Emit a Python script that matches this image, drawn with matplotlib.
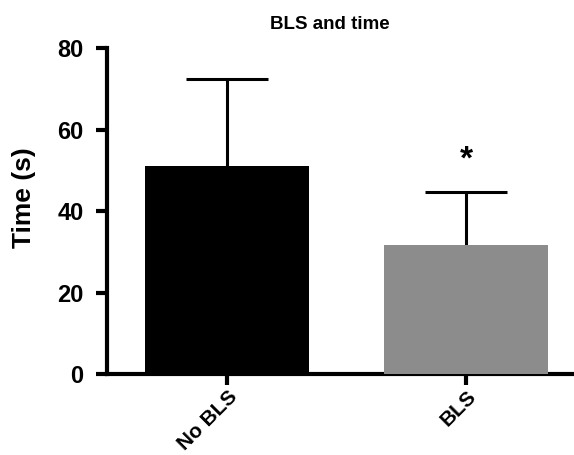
import matplotlib
matplotlib.use("Agg")
import matplotlib.pyplot as plt

# Data
groups = ["No BLS", "BLS"]
means = [51.0, 31.7]
sd_upper = [21.5, 12.9]
bar_colors = ["#000000", "#8c8c8c"]
yticks = [0, 20, 40, 60, 80]

plt.rcParams["font.family"] = ["Liberation Sans", "DejaVu Sans"]
plt.rcParams["font.weight"] = "bold"

fig = plt.figure(figsize=(5.74, 4.55), dpi=100)
ax = fig.add_axes([0.1864, 0.178, 0.8136, 0.7165])

x = list(range(len(groups)))
ax.bar(x, means, width=0.686, color=bar_colors, zorder=3)

# upper error bars only (hide the caps sitting on the bar tops)
lower = [0 for _ in means]
eb = ax.errorbar(x, means, yerr=[lower, sd_upper], fmt="none", ecolor="black",
                 elinewidth=2.2, capsize=29.5, capthick=2.2, zorder=2)
for cap in eb[1]:
    if list(cap.get_ydata()) == means:
        cap.set_visible(False)

# significance star above the BLS bar
ax.text(1, 52.5, "*", ha="center", va="center", fontsize=24, fontweight="bold")

ax.set_xlim(-0.504, 1.45)
ax.set_ylim(0, 80)
ax.set_yticks(yticks)
ax.set_xticks(x)
ax.set_xticklabels(groups, rotation=45, ha="right", rotation_mode="anchor",
                   fontsize=15, fontweight="bold")
ax.tick_params(axis="y", labelsize=17, length=8, width=3, pad=9)
ax.tick_params(axis="x", length=8, width=3, pad=1)

ax.spines["top"].set_visible(False)
ax.spines["right"].set_visible(False)
ax.spines["left"].set_linewidth(3)
ax.spines["bottom"].set_linewidth(3)

ax.set_ylabel("Time (s)", fontsize=19, fontweight="bold")
ax.yaxis.set_label_coords(-0.152, 0.54)
fig.text(0.575, 0.946, "BLS and time", ha="center", va="center",
         fontsize=13.5, fontweight="bold")

fig.savefig("out.png", dpi=100)
